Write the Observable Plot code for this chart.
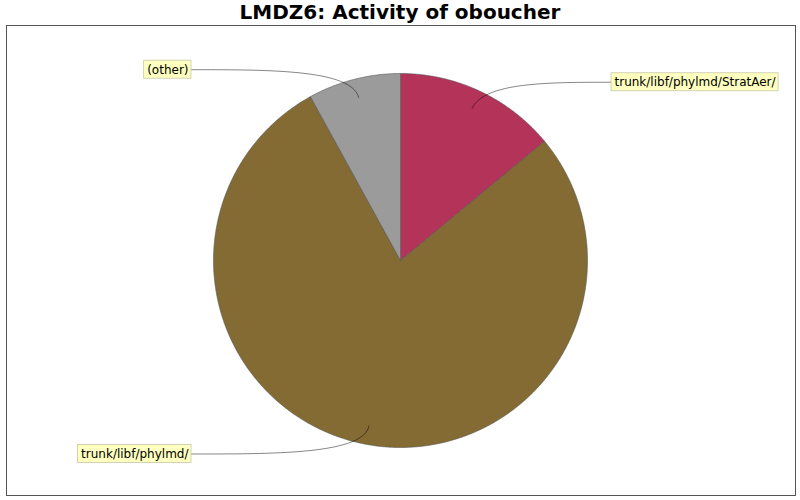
<!DOCTYPE html>
<html><head><meta charset="utf-8">
<script src="https://cdn.jsdelivr.net/npm/d3@7"></script>
<script src="https://cdn.jsdelivr.net/npm/@observablehq/plot@0.6"></script>
<style>
body{margin:0;background:#fff;}
#title{height:24px;line-height:26px;text-align:center;font:bold 20px "DejaVu Sans";color:#000;}
</style></head><body>
<div id="title">LMDZ6: Activity of oboucher</div>
<div id="chart"></div>
<script>
const categories = ["trunk/libf/phylmd/StratAer/", "trunk/libf/phylmd/", "(other)"];
const values = [7, 39, 4];
const colors = ["#b33359", "#836b33", "#9b9b9b"];

const R = 187, startR = 0.9 * R, linkR = 197, rightX = 211, leftX = -209;
const arcs = d3.pie().sort(null).value(d => d)(values);

const ctx = document.createElement("canvas").getContext("2d");
ctx.font = "12px 'DejaVu Sans'";

const slices = arcs.map((a, i) => {
  const pts = [{x: 0, y: 0}];
  const n = Math.max(2, Math.ceil((a.endAngle - a.startAngle) / 0.005));
  for (let k = 0; k <= n; k++) {
    const t = a.startAngle + (a.endAngle - a.startAngle) * k / n;
    pts.push({x: R * Math.sin(t), y: R * Math.cos(t)});
  }
  pts.push({x: 0, y: 0});
  return {pts, color: colors[i]};
});

const labels = arcs.map((a, i) => {
  const mid = (a.startAngle + a.endAngle) / 2;
  const right = Math.sin(mid) >= 0;
  const ly = linkR * Math.cos(mid);
  const w = ctx.measureText(categories[i]).width + 6;
  const x1 = right ? rightX : leftX - w;
  const x2 = right ? rightX + w : leftX;
  const p0 = {x: startR * Math.sin(mid), y: startR * Math.cos(mid)};
  const p1 = {x: linkR * Math.sin(mid), y: ly};
  const p3 = {x: right ? rightX : leftX, y: ly};
  const p2 = {x: (p1.x + p3.x) / 2, y: ly};
  const path = d3.range(0, 1.0001, 0.02).map(t => {
    const u = 1 - t;
    return {
      x: u*u*u*p0.x + 3*u*u*t*p1.x + 3*u*t*t*p2.x + t*t*t*p3.x,
      y: u*u*u*p0.y + 3*u*u*t*p1.y + 3*u*t*t*p2.y + t*t*t*p3.y
    };
  });
  return {name: categories[i], x1, x2, y: ly, path};
});

const plot = Plot.plot({
  width: 800, height: 476,
  marginLeft: 6, marginRight: 5, marginTop: 1, marginBottom: 5,
  x: {domain: [-394, 395], axis: null},
  y: {domain: [-235, 235], axis: null},
  style: {fontFamily: "DejaVu Sans", background: "#fff"},
  marks: [
    ...slices.map(s => Plot.line(s.pts, {x: "x", y: "y", fill: s.color, stroke: "#555", strokeWidth: 0.6, curve: "linear"})),
    ...labels.map(l => Plot.line(l.path, {x: "x", y: "y", stroke: "#000", strokeWidth: 0.6, strokeOpacity: 0.8})),
    Plot.rect(labels, {x1: "x1", x2: "x2", y1: d => d.y - 9, y2: d => d.y + 9, fill: "#ffffc0", stroke: "#c8c8a8", strokeWidth: 0.8}),
    Plot.text(labels, {x: "x1", y: "y", text: "name", textAnchor: "start", dx: 3, fontSize: 12, fill: "#000"}),
    Plot.frame({stroke: "#555", strokeWidth: 1})
  ]
});
document.getElementById("chart").appendChild(plot);
</script>
</body></html>
